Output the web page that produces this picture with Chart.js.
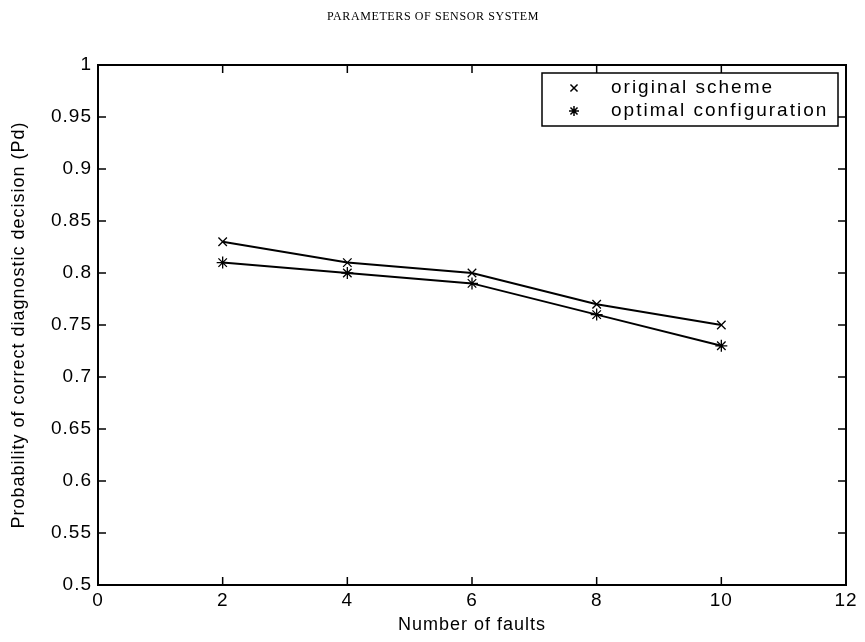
<!DOCTYPE html>
<html>
<head>
<meta charset="utf-8">
<script src="https://cdn.jsdelivr.net/npm/chart.js@4/dist/chart.umd.min.js"></script>
<style>
  html, body { margin: 0; padding: 0; background: #fff; }
  #wrap { width: 865px; height: 642px; }
</style>
</head>
<body>
<div id="wrap"><canvas id="cv" width="865" height="642"></canvas></div>
<script>
var faults = [2, 4, 6, 8, 10]
var originalScheme = [0.83, 0.81, 0.80, 0.77, 0.75]
var optimalConfig = [0.81, 0.80, 0.79, 0.76, 0.73]
var xTicks = [0, 2, 4, 6, 8, 10, 12]
var yTicks = [0.5, 0.55, 0.6, 0.65, 0.7, 0.75, 0.8, 0.85, 0.9, 0.95, 1]
var seriesNames = ['original scheme', 'optimal configuration']

var fontFam = '"Liberation Sans", Arial, sans-serif'

var toPoints = (xs, ys) => xs.map((x, i) => { return { x: x, y: ys[i] } })

// the reference text is drawn wide, so give the canvas some letter spacing
var spacing = {
    id: 'spacing',
    beforeUpdate: (chart) => { chart.ctx.letterSpacing = '1px' },
    beforeDraw: (chart) => { chart.ctx.letterSpacing = '1px' }
}

// box, inward ticks, title and legend in MATLAB style
var matlabFrame = {
    id: 'matlabFrame',
    afterDraw: (chart) => {
        var ctx = chart.ctx
        var a = chart.chartArea
        var xs = chart.scales.x
        var ys = chart.scales.y
        ctx.save()
        ctx.strokeStyle = '#000'
        ctx.lineWidth = 2
        ctx.strokeRect(a.left, a.top, a.right - a.left, a.bottom - a.top)
        ctx.lineWidth = 1.5
        ctx.beginPath()
        xTicks.forEach((t) => {
            var px = xs.getPixelForValue(t)
            ctx.moveTo(px, a.bottom); ctx.lineTo(px, a.bottom - 8)
            ctx.moveTo(px, a.top); ctx.lineTo(px, a.top + 8)
        })
        yTicks.forEach((t) => {
            var py = ys.getPixelForValue(t)
            ctx.moveTo(a.left, py); ctx.lineTo(a.left + 8, py)
            ctx.moveTo(a.right, py); ctx.lineTo(a.right - 8, py)
        })
        ctx.stroke()

        // title
        ctx.fillStyle = '#000'
        ctx.letterSpacing = '0.6px'
        ctx.font = '12px "Liberation Serif", "Times New Roman", serif'
        ctx.textAlign = 'center'
        ctx.textBaseline = 'middle'
        ctx.fillText('PARAMETERS OF SENSOR SYSTEM', 433, 17)

        // legend
        var lx = 542, ly = 73, lw = 296, lh = 53
        ctx.fillStyle = '#fff'
        ctx.fillRect(lx, ly, lw, lh)
        ctx.lineWidth = 1.5
        ctx.strokeStyle = '#000'
        ctx.strokeRect(lx, ly, lw, lh)
        ctx.letterSpacing = '2px'
        ctx.font = '19px ' + fontFam
        ctx.textAlign = 'left'
        chart.data.datasets.forEach((ds, i) => {
            var cy = ly + 15 + i * 23
            Chart.helpers.drawPoint(ctx, {
                pointStyle: ds.pointStyle,
                radius: 5,
                rotation: 0,
                borderWidth: 1.2
            }, 574, cy)
            ctx.fillStyle = '#000'
            ctx.fillText(ds.label, 611, cy)
        })
        ctx.restore()
    }
}

var makeSet = (label, data, style) => {
    return {
        label: label,
        data: data,
        borderColor: '#000',
        backgroundColor: '#000',
        borderWidth: 2,
        pointStyle: style,
        pointRadius: 6,
        pointBorderWidth: 1.3,
        pointBorderColor: '#000',
        fill: false,
        tension: 0
    }
}

new Chart(document.getElementById('cv'), {
    type: 'line',
    data: {
        datasets: [
            makeSet(seriesNames[0], toPoints(faults, originalScheme), 'crossRot'),
            makeSet(seriesNames[1], toPoints(faults, optimalConfig), 'star')
        ]
    },
    options: {
        responsive: false,
        animation: false,
        layout: { padding: { top: 65, right: 19, left: 0, bottom: 0 } },
        plugins: { legend: { display: false }, tooltip: { enabled: false } },
        scales: {
            x: {
                type: 'linear',
                min: 0, max: 12,
                afterBuildTicks: (s) => { s.ticks = xTicks.map(v => ({ value: v })) },
                afterFit: (s) => { s.height = 57 },
                grid: { display: false, drawTicks: false, tickLength: 0 },
                border: { display: false },
                ticks: {
                    color: '#000',
                    padding: 4,
                    maxRotation: 0,
                    font: { family: fontFam, size: 19 },
                    callback: (v) => String(v)
                },
                title: {
                    display: true,
                    text: 'Number of faults',
                    color: '#000',
                    font: { family: fontFam, size: 18 },
                    padding: { top: 0, bottom: 6 }
                }
            },
            y: {
                type: 'linear',
                min: 0.5, max: 1,
                afterBuildTicks: (s) => { s.ticks = yTicks.map(v => ({ value: v })) },
                afterFit: (s) => { s.width = 98 },
                grid: { display: false, drawTicks: false, tickLength: 0 },
                border: { display: false },
                ticks: {
                    color: '#000',
                    padding: 6,
                    font: { family: fontFam, size: 19 },
                    callback: (v) => String(Math.round(v * 100) / 100)
                },
                title: {
                    display: true,
                    text: 'Probability of correct diagnostic decision (Pd)',
                    color: '#000',
                    font: { family: fontFam, size: 18 },
                    padding: { top: 8, bottom: 0 }
                }
            }
        }
    },
    plugins: [spacing, matlabFrame]
})
</script>
</body>
</html>
